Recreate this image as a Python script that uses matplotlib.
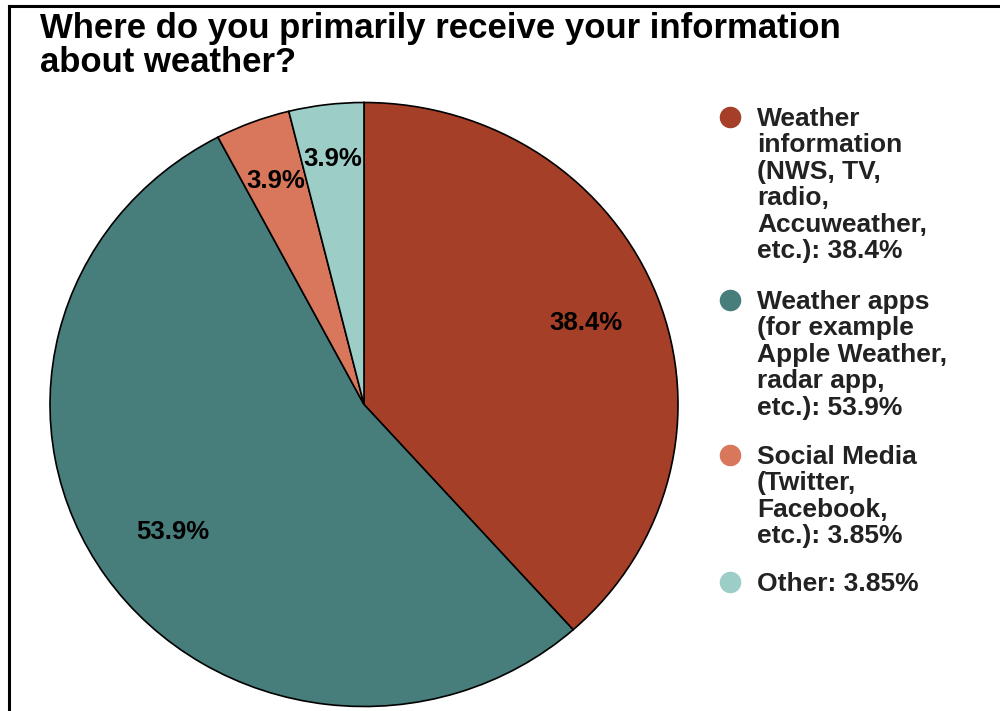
import matplotlib
matplotlib.use("Agg")
import numpy as np
import matplotlib.pyplot as plt
from matplotlib.lines import Line2D

plt.rcParams['font.family'] = ['Liberation Sans', 'DejaVu Sans']

#------------------------------------------------------------------------------
# Data
#------------------------------------------------------------------------------

title = "Where do you primarily receive your information\nabout weather?"

categories = [
    "Weather\ninformation\n(NWS, TV,\nradio,\nAccuweather,\netc.): 38.4%",
    "Weather apps\n(for example\nApple Weather,\nradar app,\netc.): 53.9%",
    "Social Media\n(Twitter,\nFacebook,\netc.): 3.85%",
    "Other: 3.85%",
]
values = [38.4, 53.9, 3.85, 3.85]
pct_labels = ["38.4%", "53.9%", "3.9%", "3.9%"]
colors = ["#A63F28", "#477E7B", "#D9775C", "#9CCDC7"]

#------------------------------------------------------------------------------
# Plot
#------------------------------------------------------------------------------

W, H = 1000, 711
fig = plt.figure(figsize=(W / 100, H / 100), dpi=100)
ax = fig.add_axes([0, 0, 1, 1])

it = iter(pct_labels)
wedges, texts, autotexts = ax.pie(
    values, colors=colors, startangle=90, counterclock=False,
    autopct=lambda p: next(it), pctdistance=0.77,
    wedgeprops=dict(edgecolor="black", linewidth=1.2),
    textprops=dict(fontsize=18.5, fontweight="bold", color="black"),
)

# nudge the percentage labels radially, like the original
label_dist = [0.755, 0.74, 0.79, 0.82]
for w, t, d in zip(wedges, autotexts, label_dist):
    mid = np.deg2rad((w.theta1 + w.theta2) / 2)
    t.set_position((d * np.cos(mid), d * np.sin(mid)))

# pie centre / radii in pixels (slightly wider than tall)
cx, cy, rx, ry = 364, 404.5, 314, 302
ax.set_aspect("auto")
ax.set_xlim(-cx / rx, (W - cx) / rx)
ax.set_ylim(-(H - cy) / ry, cy / ry)

fig.text(40 / W, 1 - 12 / H, title, ha="left", va="top",
         fontsize=25, fontweight="bold", linespacing=1.04)

# legend, drawn by hand so the marker sits on the first line
line_tops = [117, 300, 455, 582]
for label, color, yc in zip(categories, colors, line_tops):
    fig.add_artist(Line2D([730 / W], [1 - yc / H], marker="o", markersize=14.5,
                          color=color, linestyle="none"))
    fig.text(757 / W, 1 - (yc - 10) / H, label, ha="left", va="top",
             fontsize=19, fontweight="bold", color="#222222", linespacing=1.13)

# frame lines on top and left
fig.add_artist(Line2D([9 / W, 1], [1 - 6 / H, 1 - 6 / H], color="black", linewidth=2.2))
fig.add_artist(Line2D([9 / W, 9 / W], [0, 1 - 6 / H], color="black", linewidth=2.2))

fig.savefig("out.png", dpi=100)
